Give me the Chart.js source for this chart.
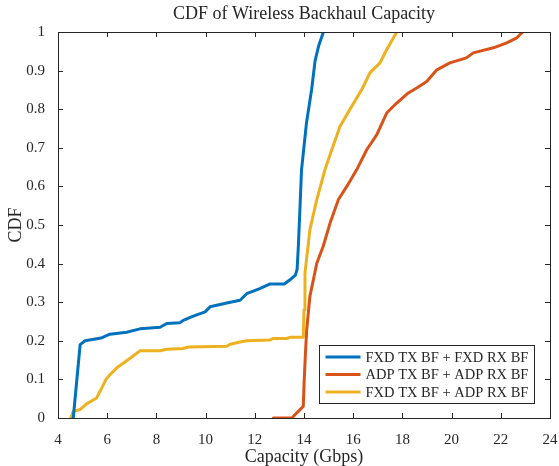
<!DOCTYPE html>
<html>
<head>
<meta charset="utf-8">
<script src="https://cdn.jsdelivr.net/npm/chart.js@4"></script>
<style>
  html, body { margin: 0; padding: 0; background: #fff; }
  #wrap { width: 559px; height: 466px; }
</style>
</head>
<body>
<div id="wrap"><canvas id="cdf" width="559" height="466"></canvas></div>
<script>
// series (capacity in Gbps, CDF)
var labels = ["FXD TX BF + FXD RX BF", "ADP TX BF + ADP RX BF", "FXD TX BF + ADP RX BF"];
var colors = ["#0072BD", "#D95319", "#EDB120"];

var fxd_x = [4.62, 4.9, 5.1, 5.75, 6.11, 6.79, 7.33, 8.15, 8.42, 8.96, 9.09, 9.5, 9.98, 10.18, 10.86, 11.4, 11.67, 12.2, 12.6, 13.2, 13.43, 13.65, 13.72, 13.77, 13.84, 13.9, 14.1, 14.31, 14.45, 14.6, 14.79];
var fxd_y = [0, 0.19, 0.2, 0.207, 0.217, 0.222, 0.231, 0.235, 0.245, 0.247, 0.253, 0.264, 0.275, 0.288, 0.298, 0.305, 0.322, 0.335, 0.347, 0.347, 0.358, 0.37, 0.385, 0.445, 0.55, 0.643, 0.764, 0.851, 0.925, 0.965, 1];

var adp_x = [12.75, 13.5, 13.97, 14.01, 14.06, 14.11, 14.24, 14.52, 14.78, 15.06, 15.4, 15.74, 16.14, 16.55, 16.96, 17.36, 17.77, 18.24, 18.58, 18.99, 19.4, 19.93, 20.6, 20.88, 21.7, 22.24, 22.65, 22.89];
var adp_y = [0, 0, 0.03, 0.1, 0.17, 0.229, 0.315, 0.401, 0.445, 0.505, 0.566, 0.6, 0.643, 0.695, 0.734, 0.79, 0.816, 0.842, 0.855, 0.872, 0.902, 0.92, 0.933, 0.946, 0.959, 0.972, 0.985, 1];

var mix_x = [4.52, 4.62, 4.9, 5.17, 5.57, 5.78, 5.95, 6.11, 6.39, 6.65, 7.0, 7.33, 8.15, 8.42, 9.09, 9.3, 10.86, 11.0, 11.4, 11.67, 12.6, 12.75, 13.3, 13.43, 13.97, 14.0, 14.04, 14.24, 14.52, 14.85, 15.13, 15.46, 15.87, 16.35, 16.68, 17.09, 17.36, 17.77];
var mix_y = [0, 0.017, 0.022, 0.037, 0.052, 0.078, 0.1, 0.112, 0.13, 0.142, 0.158, 0.174, 0.174, 0.178, 0.18, 0.184, 0.186, 0.191, 0.197, 0.2, 0.202, 0.206, 0.206, 0.209, 0.209, 0.28, 0.376, 0.488, 0.566, 0.643, 0.695, 0.755, 0.8, 0.851, 0.894, 0.92, 0.954, 1];

var x_ticks = [4, 6, 8, 10, 12, 14, 16, 18, 20, 22, 24];
var y_ticks = [0, 0.1, 0.2, 0.3, 0.4, 0.5, 0.6, 0.7, 0.8, 0.9, 1];

var serif = "'Liberation Serif', 'Times New Roman', serif";
var ink = "#262626";

function pts(xs, ys) {
	return xs.map(function (x, i) { return { x: x, y: ys[i] }; });
}

// MATLAB style box, inward ticks and legend
var matlabAxes = {
	id: "matlabAxes",
	afterDatasetsDraw: function (chart) {
		var ctx = chart.ctx;
		var a = chart.chartArea;
		var xs = chart.scales.x, ys = chart.scales.y;
		var tl = 5;
		ctx.save();
		ctx.strokeStyle = ink;
		ctx.lineWidth = 1;
		ctx.beginPath();
		x_ticks.forEach(function (v) {
			var px = Math.round(xs.getPixelForValue(v)) + 0.5;
			ctx.moveTo(px, a.bottom); ctx.lineTo(px, a.bottom - tl);
			ctx.moveTo(px, a.top); ctx.lineTo(px, a.top + tl);
		});
		y_ticks.forEach(function (v) {
			var py = Math.round(ys.getPixelForValue(v)) + 0.5;
			ctx.moveTo(a.left, py); ctx.lineTo(a.left + tl, py);
			ctx.moveTo(a.right, py); ctx.lineTo(a.right - tl, py);
		});
		ctx.stroke();
		ctx.strokeRect(Math.round(a.left) + 0.5, Math.round(a.top) + 0.5,
			Math.round(a.right - a.left), Math.round(a.bottom - a.top));

		// legend
		var w = 215, h = 58;
		var lx = Math.round(a.right - 16 - w) + 0.5;
		var ly = Math.round(a.bottom - 15 - h) + 0.5;
		ctx.fillStyle = "#fff";
		ctx.fillRect(lx, ly, w, h);
		ctx.strokeStyle = ink;
		ctx.strokeRect(lx, ly, w, h);
		ctx.font = "14.5px " + serif;
		ctx.textBaseline = "middle";
		chart.data.datasets.forEach(function (ds, i) {
			var ry = ly + 11.5 + i * 17.5;
			ctx.strokeStyle = ds.borderColor;
			ctx.lineWidth = 3;
			ctx.beginPath();
			ctx.moveTo(lx + 6, ry); ctx.lineTo(lx + 41, ry);
			ctx.stroke();
			ctx.fillStyle = ink;
			ctx.fillText(ds.label, lx + 46, ry + 1);
		});
		ctx.restore();
	}
};

new Chart(document.getElementById("cdf"), {
	type: "line",
	data: {
		datasets: [
			{ label: labels[0], data: pts(fxd_x, fxd_y), borderColor: colors[0] },
			{ label: labels[1], data: pts(adp_x, adp_y), borderColor: colors[1] },
			{ label: labels[2], data: pts(mix_x, mix_y), borderColor: colors[2] }
		]
	},
	options: {
		responsive: false,
		animation: false,
		layout: { padding: { left: 0, right: 9, top: 0, bottom: 0 } },
		elements: {
			point: { radius: 0 },
			line: { borderWidth: 3, tension: 0, borderCapStyle: "round", borderJoinStyle: "round" }
		},
		plugins: {
			legend: { display: false },
			tooltip: { enabled: false },
			title: {
				display: true,
				fullSize: false,
				text: "CDF of Wireless Backhaul Capacity",
				color: ink,
				font: { family: serif, size: 18, weight: "normal", lineHeight: 1.2 },
				padding: { top: 3, bottom: 7.4 }
			}
		},
		scales: {
			x: {
				type: "linear",
				min: 4, max: 24,
				grid: { display: false },
				border: { display: false },
				ticks: {
					stepSize: 2, padding: 5, color: ink,
					font: { family: serif, size: 15 },
					maxRotation: 0
				},
				title: {
					display: true, text: "Capacity (Gbps)", color: ink,
					font: { family: serif, size: 18, lineHeight: 1 },
					padding: { top: 0, bottom: 0 }
				},
				afterFit: function (s) { s.height = 48; s.paddingLeft = 0; s.paddingRight = 0; }
			},
			y: {
				min: 0, max: 1,
				grid: { display: false },
				border: { display: false },
				ticks: {
					stepSize: 0.1, padding: 5, color: ink,
					font: { family: serif, size: 15 },
					callback: function (v) { return String(Math.round(v * 10) / 10); }
				},
				title: {
					display: true, text: "CDF", color: ink,
					font: { family: serif, size: 18, lineHeight: 1 },
					padding: { top: 7, bottom: 0 }
				},
				afterFit: function (s) { s.width = 58; s.paddingTop = 0; s.paddingBottom = 0; }
			}
		}
	},
	plugins: [matlabAxes]
});
</script>
</body>
</html>
